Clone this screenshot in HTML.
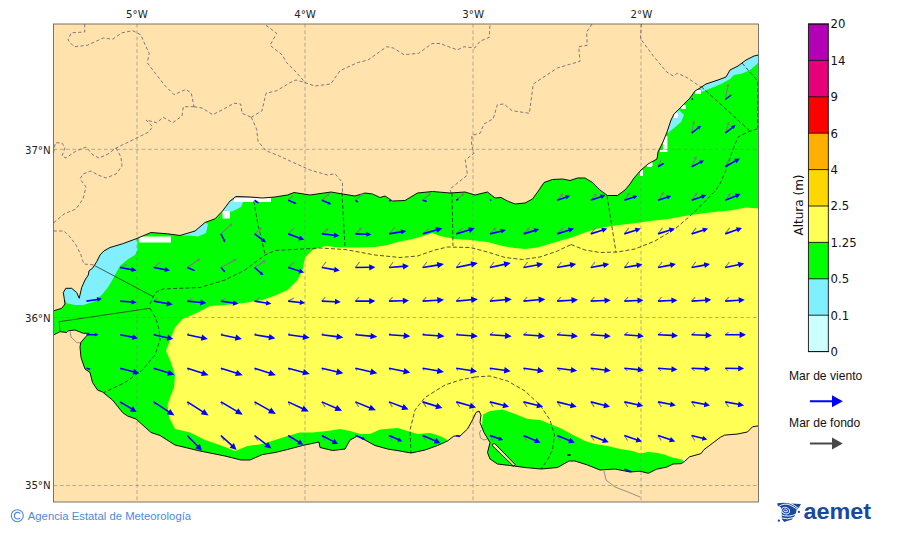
<!DOCTYPE html>
<html><head><meta charset="utf-8"><title>Mar de viento / Mar de fondo</title>
<style>
html,body{margin:0;padding:0;background:#fff;}
body{width:900px;height:533px;position:relative;overflow:hidden;font-family:"DejaVu Sans","Liberation Sans",sans-serif;}
svg text{font-family:"DejaVu Sans","Liberation Sans",sans-serif;}
</style></head><body>
<svg width="900" height="533" viewBox="0 0 900 533" style="position:absolute;left:0;top:0">
<defs><clipPath id="fr"><rect x="53.5" y="24.0" width="705.0" height="478.0"/></clipPath></defs>
<g clip-path="url(#fr)">
<rect x="53.5" y="24.0" width="705.0" height="478.0" fill="#FFE2AC"/>
<path d="M53.5,310.8 L61.7,308.3 L65.0,304.0 L64.2,298.3 L63.3,292.5 L65.8,288.3 L71.7,288.3 L76.7,292.5 L79.2,298.3 L81.7,287.5 L85.0,280.0 L88.3,275.0 L89.0,270.8 L92.5,268.3 L96.7,261.7 L100.0,255.0 L103.8,251.0 L110.0,247.5 L122.5,243.8 L136.0,238.8 L151.0,232.5 L167.5,233.8 L180.0,235.5 L195.0,231.0 L205.0,222.5 L215.0,218.8 L222.5,211.0 L230.0,201.0 L236.0,196.5 L250.0,197.0 L262.5,198.0 L275.0,197.0 L287.5,195.0 L294.0,192.5 L310.0,195.0 L331.0,192.0 L342.5,194.0 L355.0,196.0 L365.0,193.0 L372.5,194.0 L380.0,197.5 L385.0,196.0 L392.5,201.0 L405.0,200.5 L417.5,193.0 L432.5,191.5 L450.0,193.0 L465.0,192.0 L475.0,195.0 L487.5,192.0 L495.0,198.0 L501.0,197.5 L507.5,201.0 L515.0,204.0 L525.0,203.0 L532.5,199.0 L539.0,190.0 L544.0,182.5 L552.5,179.5 L562.5,179.0 L570.0,180.5 L577.5,178.0 L585.0,178.0 L592.5,182.5 L600.0,190.0 L607.5,195.5 L617.5,195.5 L625.0,190.0 L630.0,184.0 L634.0,178.0 L641.0,170.0 L648.0,164.0 L657.0,159.0 L658.0,152.0 L663.0,142.0 L667.0,132.0 L671.0,120.0 L674.0,114.0 L680.0,108.0 L690.0,98.0 L695.0,91.0 L700.0,88.0 L706.0,84.0 L718.0,80.0 L726.0,77.0 L730.0,70.0 L738.0,66.0 L746.0,60.0 L754.0,56.0 L758.5,55.0 L758.5,425.8 L752.5,426.8 L747.4,432.0 L737.0,434.1 L724.7,435.1 L720.5,437.2 L712.3,443.4 L704.0,449.6 L700.9,453.7 L689.6,456.8 L684.4,461.5 L681.3,463.6 L673.0,464.0 L666.8,467.1 L656.5,469.2 L648.3,473.3 L640.0,471.2 L630.0,472.0 L615.0,469.0 L600.0,470.0 L587.5,465.0 L575.0,461.0 L569.0,461.0 L557.5,467.5 L541.0,469.0 L525.0,467.5 L514.0,466.0 L497.5,464.0 L490.0,459.0 L487.5,452.5 L490.0,442.5 L484.0,432.5 L480.0,422.5 L481.0,415.0 L479.0,411.0 L476.0,412.5 L472.5,420.0 L467.5,429.0 L460.0,436.0 L454.0,436.0 L447.5,441.0 L437.5,445.5 L425.0,450.0 L411.0,453.0 L400.0,451.0 L387.5,449.0 L375.0,445.5 L365.0,440.0 L357.5,436.0 L350.0,440.0 L345.0,449.0 L332.5,450.5 L320.0,447.5 L319.0,442.0 L302.5,445.5 L287.5,449.5 L275.0,452.5 L262.5,454.5 L250.0,460.0 L241.0,460.0 L225.0,456.0 L200.0,451.0 L175.0,445.0 L160.0,435.5 L151.0,432.5 L136.0,419.0 L127.5,416.0 L122.5,412.5 L112.5,400.0 L102.5,392.0 L97.5,390.0 L92.5,382.5 L90.0,372.5 L85.0,369.0 L81.0,357.5 L80.0,347.0 L80.8,342.5 L85.8,336.7 L89.2,333.3 L83.3,333.3 L75.0,330.0 L68.3,330.8 L66.7,332.5 L60.0,331.7 L53.5,335.0Z" fill="#00FF00"/>
<path d="M166.0,351.0 L170.0,340.0 L175.0,327.5 L182.5,319.0 L197.5,312.5 L210.0,306.0 L225.0,305.0 L247.5,302.5 L262.5,300.0 L275.0,295.5 L287.5,290.0 L297.5,280.0 L302.5,270.0 L305.0,257.5 L312.5,250.0 L325.0,246.0 L340.0,247.5 L357.5,247.5 L375.0,247.0 L387.5,245.0 L397.5,242.0 L412.5,239.0 L425.0,235.5 L432.5,233.0 L440.0,236.0 L455.0,239.0 L470.0,240.0 L487.5,242.0 L502.5,246.0 L515.0,248.0 L525.0,249.0 L537.5,247.5 L552.5,243.0 L570.0,238.0 L585.0,232.5 L600.0,228.0 L615.0,225.5 L632.0,223.5 L650.0,221.0 L668.0,219.0 L690.0,215.0 L714.0,212.0 L730.0,210.4 L746.0,207.6 L758.5,208.6 L758.5,485.0 L690.0,485.0 L686.5,461.0 L683.4,459.9 L681.3,459.5 L673.0,457.8 L664.8,454.7 L656.5,452.7 L648.3,452.0 L640.0,453.5 L632.5,451.0 L620.0,449.0 L607.5,446.0 L595.0,444.0 L585.0,441.0 L575.0,436.0 L560.0,428.0 L550.0,424.0 L540.0,420.0 L527.5,419.0 L515.0,414.0 L502.5,409.5 L490.0,411.0 L483.0,414.5 L481.5,430.0 L470.0,455.0 L450.0,455.0 L447.5,440.0 L440.0,436.0 L430.0,433.0 L417.5,434.0 L407.5,431.0 L397.5,428.0 L380.0,429.5 L370.0,434.0 L360.0,434.0 L350.0,431.0 L340.0,429.0 L327.5,431.0 L312.5,432.5 L300.0,432.5 L287.5,436.0 L275.0,440.0 L262.5,444.0 L247.5,446.0 L235.0,451.0 L222.5,446.0 L205.0,440.0 L190.0,432.5 L175.0,429.0 L169.0,417.5 L167.5,405.0 L170.0,397.5 L174.0,387.5 L175.0,375.0 L171.0,362.5Z" fill="#FFFF55"/>
<path d="M100.0,255.0 L103.8,251.0 L110.0,247.5 L122.5,243.8 L136.0,238.8 L137.5,242.5 L137.5,250.0 L135.0,255.0 L128.3,259.0 L120.0,265.8 L116.7,271.7 L113.3,278.3 L108.3,286.7 L101.7,295.0 L93.3,301.7 L83.3,305.0 L75.0,305.0 L66.7,303.3 L64.2,298.3 L63.3,292.5 L65.8,288.3 L71.7,288.3 L76.7,292.5 L79.2,298.3 L81.7,287.5 L85.0,280.0 L88.3,275.0 L89.0,270.8 L92.5,268.3 L96.7,261.7Z" fill="#80F0FF"/>
<path d="M194.0,231.5 L205.0,222.5 L208.0,224.0 L206.0,233.0 L198.0,236.5 L190.0,235.5 L180.0,235.5 L182.0,233.5Z" fill="#80F0FF"/>
<path d="M222.5,211.0 L230.0,201.0 L233.0,200.0 L243.0,202.0 L241.0,207.0 L232.0,211.5Z" fill="#80F0FF"/>
<path d="M700.0,88.0 L706.0,84.0 L718.0,80.0 L726.0,77.0 L730.0,70.0 L738.0,66.0 L746.0,60.0 L754.0,56.0 L758.5,55.0 L758.5,62.0 L757.0,64.0 L750.0,70.0 L742.0,73.5 L734.0,75.0 L730.0,79.0 L722.0,83.5 L714.0,87.0 L706.0,90.0 L702.0,92.0Z" fill="#80F0FF"/>
<path d="M667.0,132.0 L671.0,120.0 L674.0,114.0 L679.0,110.0 L684.0,115.0 L681.0,122.0 L674.0,128.0 L668.0,133.0Z" fill="#80F0FF"/>
<rect x="138.8" y="236.5" width="32.2" height="6.0" fill="#fff"/>
<rect x="233.8" y="197.5" width="37.2" height="4.5" fill="#fff"/>
<rect x="222.5" y="211.0" width="7.5" height="7.5" fill="#fff"/>
<rect x="695.0" y="90.0" width="6.0" height="4.0" fill="#fff"/>
<rect x="681.0" y="105.0" width="5.0" height="4.0" fill="#fff"/>
<rect x="674.0" y="113.0" width="4.0" height="5.0" fill="#fff"/>
<rect x="663.0" y="136.0" width="4.4" height="16.0" fill="#fff"/>
<rect x="647.0" y="162.0" width="5.0" height="5.0" fill="#fff"/>
<rect x="640.0" y="170.0" width="3.0" height="6.0" fill="#fff"/>
<rect x="646.0" y="162.5" width="6.5" height="3.5" fill="#fff"/>
<rect x="660.0" y="150.0" width="6.0" height="2.0" fill="#fff"/>
<rect x="682.7" y="458.8" width="2.7" height="2.5" fill="#fff"/>
<path d="M53.5,24.0 L53.5,311.0 L61.7,308.3 L65.0,304.0 L64.2,298.3 L63.3,292.5 L65.8,288.3 L71.7,288.3 L76.7,292.5 L79.2,298.3 L81.7,287.5 L85.0,280.0 L88.3,275.0 L89.0,270.8 L92.5,268.3 L96.7,261.7 L100.0,255.0 L103.8,251.0 L110.0,247.5 L122.5,243.8 L136.0,238.8 L151.0,232.5 L167.5,233.8 L180.0,235.5 L195.0,231.0 L205.0,222.5 L215.0,218.8 L222.5,211.0 L230.0,201.0 L236.0,196.5 L250.0,197.0 L262.5,198.0 L275.0,197.0 L287.5,195.0 L294.0,192.5 L310.0,195.0 L331.0,192.0 L342.5,194.0 L355.0,196.0 L365.0,193.0 L372.5,194.0 L380.0,197.5 L385.0,196.0 L392.5,201.0 L405.0,200.5 L417.5,193.0 L432.5,191.5 L450.0,193.0 L465.0,192.0 L475.0,195.0 L487.5,192.0 L495.0,198.0 L501.0,197.5 L507.5,201.0 L515.0,204.0 L525.0,203.0 L532.5,199.0 L539.0,190.0 L544.0,182.5 L552.5,179.5 L562.5,179.0 L570.0,180.5 L577.5,178.0 L585.0,178.0 L592.5,182.5 L600.0,190.0 L607.5,195.5 L617.5,195.5 L625.0,190.0 L630.0,184.0 L634.0,178.0 L641.0,170.0 L648.0,164.0 L657.0,159.0 L658.0,152.0 L663.0,142.0 L667.0,132.0 L671.0,120.0 L674.0,114.0 L680.0,108.0 L690.0,98.0 L695.0,91.0 L700.0,88.0 L706.0,84.0 L718.0,80.0 L726.0,77.0 L730.0,70.0 L738.0,66.0 L746.0,60.0 L754.0,56.0 L758.5,55.0 L758.5,24.0Z" fill="#FFE2AC"/>
<path d="M53.5,502.0 L53.5,335.0 L60.0,331.7 L66.7,332.5 L68.3,330.8 L75.0,330.0 L83.3,333.3 L89.2,333.3 L85.8,336.7 L80.8,342.5 L80.0,347.0 L81.0,357.5 L85.0,369.0 L90.0,372.5 L92.5,382.5 L97.5,390.0 L102.5,392.0 L112.5,400.0 L122.5,412.5 L127.5,416.0 L136.0,419.0 L151.0,432.5 L160.0,435.5 L175.0,445.0 L200.0,451.0 L225.0,456.0 L241.0,460.0 L250.0,460.0 L262.5,454.5 L275.0,452.5 L287.5,449.5 L302.5,445.5 L319.0,442.0 L320.0,447.5 L332.5,450.5 L345.0,449.0 L350.0,440.0 L357.5,436.0 L365.0,440.0 L375.0,445.5 L387.5,449.0 L400.0,451.0 L411.0,453.0 L425.0,450.0 L437.5,445.5 L447.5,441.0 L454.0,436.0 L460.0,436.0 L467.5,429.0 L472.5,420.0 L476.0,412.5 L479.0,411.0 L481.0,415.0 L480.0,422.5 L484.0,432.5 L490.0,442.5 L487.5,452.5 L490.0,459.0 L497.5,464.0 L514.0,466.0 L525.0,467.5 L541.0,469.0 L557.5,467.5 L569.0,461.0 L575.0,461.0 L587.5,465.0 L600.0,470.0 L615.0,469.0 L630.0,472.0 L640.0,471.2 L648.3,473.3 L656.5,469.2 L666.8,467.1 L673.0,464.0 L681.3,463.6 L684.4,461.5 L689.6,456.8 L700.9,453.7 L704.0,449.6 L712.3,443.4 L720.5,437.2 L724.7,435.1 L737.0,434.1 L747.4,432.0 L752.5,426.8 L758.5,425.8 L758.5,502.0Z" fill="#FFE2AC"/>
<line x1="137.0" y1="24.0" x2="137.0" y2="502.0" stroke="#808080" stroke-opacity="0.75" stroke-width="0.8" stroke-dasharray="3.7,2.6"/>
<line x1="305.0" y1="24.0" x2="305.0" y2="502.0" stroke="#808080" stroke-opacity="0.75" stroke-width="0.8" stroke-dasharray="3.7,2.6"/>
<line x1="473.0" y1="24.0" x2="473.0" y2="502.0" stroke="#808080" stroke-opacity="0.75" stroke-width="0.8" stroke-dasharray="3.7,2.6"/>
<line x1="641.0" y1="24.0" x2="641.0" y2="502.0" stroke="#808080" stroke-opacity="0.75" stroke-width="0.8" stroke-dasharray="3.7,2.6"/>
<line x1="53.5" y1="149.3" x2="758.5" y2="149.3" stroke="#808080" stroke-opacity="0.75" stroke-width="0.8" stroke-dasharray="3.7,2.6"/>
<line x1="53.5" y1="317.5" x2="758.5" y2="317.5" stroke="#808080" stroke-opacity="0.75" stroke-width="0.8" stroke-dasharray="3.7,2.6"/>
<line x1="53.5" y1="485.5" x2="758.5" y2="485.5" stroke="#808080" stroke-opacity="0.75" stroke-width="0.8" stroke-dasharray="3.7,2.6"/>
<path d="M84.7,24.0 L84.7,32.0 L71.3,32.8 L68.0,40.0 L74.0,46.7 L87.3,45.3 L103.3,38.0 L112.7,39.2 L122.0,32.8 L132.7,30.7 L140.7,34.7 L146.0,46.7 L149.2,53.3 L147.3,62.7 L155.3,73.3 L164.7,85.3 L174.0,94.7 L186.0,89.3 L191.3,93.3 L194.0,106.7" fill="none" stroke="#5f5c74" stroke-width="0.8" stroke-dasharray="3.3,2.3"/>
<path d="M194.0,106.7 L183.3,106.7 L182.0,116.0 L172.7,122.7 L163.3,117.3 L156.7,122.7 L146.0,120.0 L152.7,126.7 L148.7,132.0 L130.0,141.3 L116.0,148.0 L108.0,154.0 L99.0,158.0 L93.0,155.0 L86.0,147.0 L76.0,151.0 L66.0,158.0 L62.0,156.0 L65.0,148.0 L62.0,143.0 L55.3,142.7 L53.5,153.3" fill="none" stroke="#5f5c74" stroke-width="0.8" stroke-dasharray="3.3,2.3"/>
<path d="M116.0,148.0 L121.0,157.0 L122.0,166.0 L116.0,174.0 L106.0,178.0 L98.0,175.0 L91.0,171.0 L83.0,174.0 L80.0,179.0 L86.0,187.0 L83.0,199.0 L76.0,209.0 L64.0,214.0 L53.5,223.0" fill="none" stroke="#5f5c74" stroke-width="0.8" stroke-dasharray="3.3,2.3"/>
<path d="M53.5,231.0 L64.0,231.0 L70.0,237.0 L76.0,245.0 L81.0,255.0 L83.8,264.0 L95.0,265.0" fill="none" stroke="#5f5c74" stroke-width="0.8" stroke-dasharray="3.3,2.3"/>
<path d="M194.0,106.7 L202.0,108.0 L212.7,114.7 L223.3,109.3 L234.0,103.2 L240.7,104.0 L242.0,113.3 L251.3,117.3" fill="none" stroke="#5f5c74" stroke-width="0.8" stroke-dasharray="3.3,2.3"/>
<path d="M251.3,117.3 L262.0,110.7 L266.0,93.3 L276.7,90.7 L290.0,82.7 L296.0,80.0 L305.3,82.7" fill="none" stroke="#5f5c74" stroke-width="0.8" stroke-dasharray="3.3,2.3"/>
<path d="M251.3,117.3 L256.7,129.3 L258.0,141.3 L266.0,150.7 L279.3,156.0 L290.7,161.3 L310.0,170.0 L327.5,175.0 L335.0,173.8 L342.5,182.5 L342.5,192.5" fill="none" stroke="#5f5c74" stroke-width="0.8" stroke-dasharray="3.3,2.3"/>
<path d="M266.0,25.3 L276.7,33.3 L270.0,45.3 L282.0,54.7 L286.7,62.7 L296.0,72.0 L305.3,82.7 L314.7,86.0 L330.7,84.0 L340.0,70.7 L357.3,62.7 L368.0,60.0 L386.7,46.7 L393.3,48.0 L404.0,54.7 L418.7,53.3 L432.0,43.5 L440.0,43.5 L457.3,49.9 L464.0,46.7 L474.7,48.0 L480.0,41.3 L489.3,37.3 L490.0,24.0" fill="none" stroke="#5f5c74" stroke-width="0.8" stroke-dasharray="3.3,2.3"/>
<path d="M592.0,24.0 L586.7,32.0 L587.2,45.3 L578.7,46.7 L580.0,61.3 L557.3,68.0 L533.3,84.0 L529.3,113.3 L512.0,110.7 L504.0,104.0 L497.3,104.8 L493.3,118.7 L484.0,124.0 L480.0,133.3 L472.0,135.2 L471.5,144.0 L474.0,153.3 L465.3,160.0 L467.5,175.0 L450.0,189.0 L451.0,193.0" fill="none" stroke="#5f5c74" stroke-width="0.8" stroke-dasharray="3.3,2.3"/>
<path d="M641.3,24.0 L640.5,38.7 L653.3,56.0 L666.7,72.0 L673.3,76.0 L677.3,73.3 L686.0,77.0 L698.0,85.0 L701.0,87.0" fill="none" stroke="#5f5c74" stroke-width="0.8" stroke-dasharray="3.3,2.3"/>
<path d="M70.0,331.7 L71.0,337.0 L76.7,342.5 L81.0,343.0" fill="none" stroke="#6a6a80" stroke-width="0.7"/>
<path d="M604.0,471.0 L606.0,480.0 L615.0,487.0 L628.0,492.0 L640.0,497.0" fill="none" stroke="#6a6a80" stroke-width="0.7"/>
<path d="M481.0,430.0 L479.5,433.0 L480.5,438.0 L484.0,440.0 L487.0,439.0" fill="none" stroke="#6a6a80" stroke-width="0.7"/>
<path d="M150.0,304.0 L153.3,296.7 L156.7,291.7 L163.3,289.0 L200.0,287.5 L225.0,280.0 L245.0,270.0 L265.0,255.0 L275.0,250.5 L320.0,248.0 L345.0,249.5 L375.0,255.0 L400.0,257.5 L417.5,256.0 L435.0,250.0 L447.5,247.0 L470.0,247.5 L487.5,252.0 L505.0,257.5 L522.5,259.5 L540.0,257.0 L557.5,251.0 L571.0,244.5" fill="none" stroke="#333" stroke-width="0.85" stroke-dasharray="4,2.2"/>
<path d="M571.0,244.5 L585.0,250.0 L600.0,252.5 L617.5,252.0 L635.0,249.0 L655.0,241.0 L675.0,229.0 L690.0,216.0 L702.5,204.0 L715.0,191.0 L720.0,184.0 L726.0,170.0 L732.0,152.0 L738.0,137.0 L748.0,132.0 L758.5,128.4" fill="none" stroke="#333" stroke-width="0.85" stroke-dasharray="4,2.2"/>
<path d="M253.8,201.0 L258.0,225.0 L265.0,254.0" fill="none" stroke="#333" stroke-width="0.85" stroke-dasharray="4,2.2"/>
<path d="M342.0,192.5 L345.0,247.5" fill="none" stroke="#333" stroke-width="0.85" stroke-dasharray="4,2.2"/>
<path d="M452.0,193.0 L453.0,246.0" fill="none" stroke="#333" stroke-width="0.85" stroke-dasharray="4,2.2"/>
<path d="M607.0,195.5 L616.0,252.5" fill="none" stroke="#333" stroke-width="0.85" stroke-dasharray="4,2.2"/>
<path d="M701.0,86.4 L750.0,131.0" fill="none" stroke="#333" stroke-width="0.85" stroke-dasharray="4,2.2"/>
<path d="M742.0,63.0 L758.5,82.0" fill="none" stroke="#333" stroke-width="0.85" stroke-dasharray="4,2.2"/>
<path d="M757.8,82.0 L757.8,128.0" fill="none" stroke="#333" stroke-width="0.85" stroke-dasharray="4,2.2"/>
<path d="M150.0,308.3 L155.8,318.3 L159.2,330.0 L160.0,340.0 L155.0,355.0 L142.5,370.0 L125.0,382.5 L104.0,392.5" fill="none" stroke="#333" stroke-width="0.85" stroke-dasharray="4,2.2"/>
<path d="M475.0,377.0 L490.0,376.0 L507.5,381.0 L525.0,391.0 L540.0,405.0 L550.0,420.0 L554.5,435.0 L552.5,450.0 L547.5,460.0 L541.0,469.0" fill="none" stroke="#333" stroke-width="0.85" stroke-dasharray="4,2.2"/>
<path d="M475.0,377.0 L460.0,380.0 L445.0,385.0 L425.0,397.5 L415.0,410.0 L410.0,430.0 L411.0,453.0" fill="none" stroke="#333" stroke-width="0.85" stroke-dasharray="4,2.2"/>
<path d="M95.0,265.8 L153.3,296.7" fill="none" stroke="#333" stroke-width="0.8"/>
<path d="M60.0,331.7 L59.2,321.7 L150.0,308.3" fill="none" stroke="#333" stroke-width="0.8"/>
<path d="M492.3,445.6 Q492.2,443.2 494.8,443.6 L515.2,464.6 L513.6,466.3 Z" fill="#FFE2AC" stroke="#000" stroke-width="0.9"/>
<ellipse cx="569" cy="455" rx="1.8" ry="1" fill="#000"/>
<path d="M53.5,310.8 L61.7,308.3 L65.0,304.0 L64.2,298.3 L63.3,292.5 L65.8,288.3 L71.7,288.3 L76.7,292.5 L79.2,298.3 L81.7,287.5 L85.0,280.0 L88.3,275.0 L89.0,270.8 L92.5,268.3 L96.7,261.7 L100.0,255.0 L103.8,251.0 L110.0,247.5 L122.5,243.8 L136.0,238.8 L151.0,232.5 L167.5,233.8 L180.0,235.5 L195.0,231.0 L205.0,222.5 L215.0,218.8 L222.5,211.0 L230.0,201.0 L236.0,196.5 L250.0,197.0 L262.5,198.0 L275.0,197.0 L287.5,195.0 L294.0,192.5 L310.0,195.0 L331.0,192.0 L342.5,194.0 L355.0,196.0 L365.0,193.0 L372.5,194.0 L380.0,197.5 L385.0,196.0 L392.5,201.0 L405.0,200.5 L417.5,193.0 L432.5,191.5 L450.0,193.0 L465.0,192.0 L475.0,195.0 L487.5,192.0 L495.0,198.0 L501.0,197.5 L507.5,201.0 L515.0,204.0 L525.0,203.0 L532.5,199.0 L539.0,190.0 L544.0,182.5 L552.5,179.5 L562.5,179.0 L570.0,180.5 L577.5,178.0 L585.0,178.0 L592.5,182.5 L600.0,190.0 L607.5,195.5 L617.5,195.5 L625.0,190.0 L630.0,184.0 L634.0,178.0 L641.0,170.0 L648.0,164.0 L657.0,159.0 L658.0,152.0 L663.0,142.0 L667.0,132.0 L671.0,120.0 L674.0,114.0 L680.0,108.0 L690.0,98.0 L695.0,91.0 L700.0,88.0 L706.0,84.0 L718.0,80.0 L726.0,77.0 L730.0,70.0 L738.0,66.0 L746.0,60.0 L754.0,56.0 L758.5,55.0" fill="none" stroke="#000" stroke-width="0.95" stroke-linejoin="round"/>
<path d="M53.5,335.0 L60.0,331.7 L66.7,332.5 L68.3,330.8 L75.0,330.0 L83.3,333.3 L89.2,333.3 L85.8,336.7 L80.8,342.5 L80.0,347.0 L81.0,357.5 L85.0,369.0 L90.0,372.5 L92.5,382.5 L97.5,390.0 L102.5,392.0 L112.5,400.0 L122.5,412.5 L127.5,416.0 L136.0,419.0 L151.0,432.5 L160.0,435.5 L175.0,445.0 L200.0,451.0 L225.0,456.0 L241.0,460.0 L250.0,460.0 L262.5,454.5 L275.0,452.5 L287.5,449.5 L302.5,445.5 L319.0,442.0 L320.0,447.5 L332.5,450.5 L345.0,449.0 L350.0,440.0 L357.5,436.0 L365.0,440.0 L375.0,445.5 L387.5,449.0 L400.0,451.0 L411.0,453.0 L425.0,450.0 L437.5,445.5 L447.5,441.0 L454.0,436.0 L460.0,436.0 L467.5,429.0 L472.5,420.0 L476.0,412.5 L479.0,411.0 L481.0,415.0 L480.0,422.5 L484.0,432.5 L490.0,442.5 L487.5,452.5 L490.0,459.0 L497.5,464.0 L514.0,466.0 L525.0,467.5 L541.0,469.0 L557.5,467.5 L569.0,461.0 L575.0,461.0 L587.5,465.0 L600.0,470.0 L615.0,469.0 L630.0,472.0 L640.0,471.2 L648.3,473.3 L656.5,469.2 L666.8,467.1 L673.0,464.0 L681.3,463.6 L684.4,461.5 L689.6,456.8 L700.9,453.7 L704.0,449.6 L712.3,443.4 L720.5,437.2 L724.7,435.1 L737.0,434.1 L747.4,432.0 L752.5,426.8 L758.5,425.8" fill="none" stroke="#000" stroke-width="0.95" stroke-linejoin="round"/>
<path d="M725.8,99.6 L728.2,86.7 L729.2,86.9 L728.2,83.5 L726.1,86.4 L727.1,86.5 L724.7,99.4Z" fill="#7d7d7d"/>
<path d="M692.2,133.2 L694.0,123.8 L695.1,124.1 L694.1,120.6 L691.9,123.4 L693.0,123.6 L691.1,133.0Z" fill="#7d7d7d"/>
<path d="M725.8,133.3 L728.7,124.8 L729.7,125.1 L729.2,121.6 L726.7,124.1 L727.7,124.4 L724.7,132.9Z" fill="#7d7d7d"/>
<path d="M658.0,166.7 l3.0,-6.6" stroke="#7d7d7d" stroke-width="1.1" fill="none"/>
<path d="M692.1,166.9 L695.8,159.2 L696.7,159.7 L696.6,156.1 L693.8,158.3 L694.8,158.8 L691.1,166.5Z" fill="#7d7d7d"/>
<path d="M725.2,166.7 l4.0,-7.6" stroke="#7d7d7d" stroke-width="1.1" fill="none"/>
<path d="M288.2,200.3 l5.0,-5.0" stroke="#7d7d7d" stroke-width="1.1" fill="none"/>
<path d="M322.2,200.7 L328.1,195.6 L328.7,196.4 L330.1,193.1 L326.6,194.0 L327.3,194.8 L321.4,199.9Z" fill="#7d7d7d"/>
<path d="M355.8,200.7 L361.4,195.6 L362.1,196.4 L363.4,193.1 L360.0,194.1 L360.7,194.8 L355.1,199.9Z" fill="#7d7d7d"/>
<path d="M423.0,200.7 L429.1,195.6 L429.8,196.4 L431.2,193.1 L427.7,193.9 L428.4,194.7 L422.3,199.9Z" fill="#7d7d7d"/>
<path d="M456.7,200.7 L462.5,195.6 L463.2,196.4 L464.6,193.1 L461.1,194.0 L461.8,194.8 L455.9,199.9Z" fill="#7d7d7d"/>
<path d="M557.6,200.7 L561.5,196.1 L562.3,196.8 L563.2,193.3 L559.9,194.7 L560.6,195.4 L556.7,199.9Z" fill="#7d7d7d"/>
<path d="M591.2,200.7 L595.1,196.1 L595.9,196.8 L596.8,193.3 L593.5,194.7 L594.3,195.4 L590.4,199.9Z" fill="#7d7d7d"/>
<path d="M624.8,200.6 L628.6,195.2 L629.5,195.8 L630.0,192.3 L626.8,194.0 L627.7,194.6 L623.9,200.0Z" fill="#7d7d7d"/>
<path d="M658.5,200.6 L662.6,194.7 L663.5,195.3 L664.0,191.8 L660.9,193.5 L661.7,194.1 L657.6,200.0Z" fill="#7d7d7d"/>
<path d="M692.1,200.6 L696.2,195.2 L697.0,195.8 L697.6,192.3 L694.4,193.9 L695.3,194.5 L691.2,200.0Z" fill="#7d7d7d"/>
<path d="M725.7,200.6 L729.2,196.0 L730.1,196.6 L730.8,193.1 L727.5,194.7 L728.4,195.3 L724.8,200.0Z" fill="#7d7d7d"/>
<path d="M221.3,234.3 L230.7,225.8 L231.4,226.5 L232.6,223.2 L229.2,224.2 L229.9,225.0 L220.6,233.5Z" fill="#7d7d7d"/>
<path d="M254.9,234.3 L260.0,229.7 L260.7,230.5 L262.1,227.2 L258.6,228.1 L259.3,228.9 L254.2,233.5Z" fill="#7d7d7d"/>
<path d="M288.2,233.9 l5.9,-6.0" stroke="#7d7d7d" stroke-width="1.1" fill="none"/>
<path d="M322.2,234.3 L326.7,230.4 L327.4,231.2 L328.8,227.9 L325.3,228.8 L326.0,229.6 L321.5,233.5Z" fill="#7d7d7d"/>
<path d="M355.8,234.3 L360.3,229.9 L361.0,230.6 L362.1,227.2 L358.7,228.3 L359.5,229.1 L355.0,233.5Z" fill="#7d7d7d"/>
<path d="M389.0,233.9 l6.0,-6.7" stroke="#7d7d7d" stroke-width="1.1" fill="none"/>
<path d="M422.7,233.9 l6.0,-5.0" stroke="#7d7d7d" stroke-width="1.1" fill="none"/>
<path d="M456.3,233.9 l6.4,-6.0" stroke="#7d7d7d" stroke-width="1.1" fill="none"/>
<path d="M490.3,234.3 L494.7,229.9 L495.5,230.6 L496.6,227.2 L493.2,228.3 L494.0,229.1 L489.5,233.5Z" fill="#7d7d7d"/>
<path d="M523.9,234.3 L528.1,229.9 L528.9,230.6 L529.9,227.2 L526.6,228.4 L527.3,229.1 L523.1,233.5Z" fill="#7d7d7d"/>
<path d="M557.2,233.9 l6.0,-6.0" stroke="#7d7d7d" stroke-width="1.1" fill="none"/>
<path d="M590.8,233.9 l4.5,-6.0" stroke="#7d7d7d" stroke-width="1.1" fill="none"/>
<path d="M624.4,233.9 l4.5,-6.0" stroke="#7d7d7d" stroke-width="1.1" fill="none"/>
<path d="M658.0,233.9 l4.5,-6.0" stroke="#7d7d7d" stroke-width="1.1" fill="none"/>
<path d="M691.6,233.9 l4.5,-6.0" stroke="#7d7d7d" stroke-width="1.1" fill="none"/>
<path d="M725.2,233.9 l4.5,-6.0" stroke="#7d7d7d" stroke-width="1.1" fill="none"/>
<path d="M120.1,267.5 l7.0,-3.0" stroke="#7d7d7d" stroke-width="1.1" fill="none"/>
<path d="M153.7,267.5 l7.0,-5.6" stroke="#7d7d7d" stroke-width="1.1" fill="none"/>
<path d="M187.6,268.0 L198.3,260.7 L198.9,261.6 L200.6,258.5 L197.1,259.0 L197.7,259.8 L187.0,267.0Z" fill="#7d7d7d"/>
<path d="M221.2,268.0 L234.1,261.0 L234.6,261.9 L236.6,259.0 L233.1,259.1 L233.6,260.0 L220.7,267.0Z" fill="#7d7d7d"/>
<path d="M254.9,268.0 L263.6,262.5 L264.2,263.4 L266.1,260.3 L262.5,260.6 L263.1,261.5 L254.3,267.0Z" fill="#7d7d7d"/>
<path d="M288.2,267.5 l6.4,-5.6" stroke="#7d7d7d" stroke-width="1.1" fill="none"/>
<path d="M321.8,267.5 l4.2,-5.5" stroke="#7d7d7d" stroke-width="1.1" fill="none"/>
<path d="M355.4,267.5 l4.2,-5.5" stroke="#7d7d7d" stroke-width="1.1" fill="none"/>
<path d="M389.0,267.5 l4.2,-5.5" stroke="#7d7d7d" stroke-width="1.1" fill="none"/>
<path d="M422.7,267.5 l4.2,-5.5" stroke="#7d7d7d" stroke-width="1.1" fill="none"/>
<path d="M456.3,267.5 l4.2,-5.5" stroke="#7d7d7d" stroke-width="1.1" fill="none"/>
<path d="M489.9,267.5 l4.2,-5.5" stroke="#7d7d7d" stroke-width="1.1" fill="none"/>
<path d="M523.5,267.5 l4.2,-5.5" stroke="#7d7d7d" stroke-width="1.1" fill="none"/>
<path d="M557.2,267.5 l4.2,-5.5" stroke="#7d7d7d" stroke-width="1.1" fill="none"/>
<path d="M590.8,267.5 l4.2,-5.5" stroke="#7d7d7d" stroke-width="1.1" fill="none"/>
<path d="M624.4,267.5 l4.2,-5.5" stroke="#7d7d7d" stroke-width="1.1" fill="none"/>
<path d="M658.0,267.5 l4.2,-5.5" stroke="#7d7d7d" stroke-width="1.1" fill="none"/>
<path d="M691.6,267.5 l4.2,-5.5" stroke="#7d7d7d" stroke-width="1.1" fill="none"/>
<path d="M725.2,267.5 l4.2,-5.5" stroke="#7d7d7d" stroke-width="1.1" fill="none"/>
<path d="M153.7,301.1 l4.3,-3.2" stroke="#7d7d7d" stroke-width="1.1" fill="none"/>
<path d="M187.3,301.1 l5.3,-3.2" stroke="#7d7d7d" stroke-width="1.1" fill="none"/>
<path d="M220.9,301.1 l5.0,-3.2" stroke="#7d7d7d" stroke-width="1.1" fill="none"/>
<path d="M254.6,301.1 l5.3,-3.7" stroke="#7d7d7d" stroke-width="1.1" fill="none"/>
<path d="M288.2,301.1 l5.8,-3.2" stroke="#7d7d7d" stroke-width="1.1" fill="none"/>
<path d="M321.8,301.1 l3.6,-4.0" stroke="#7d7d7d" stroke-width="1.1" fill="none"/>
<path d="M355.4,301.1 l3.6,-4.0" stroke="#7d7d7d" stroke-width="1.1" fill="none"/>
<path d="M389.0,301.1 l3.6,-4.0" stroke="#7d7d7d" stroke-width="1.1" fill="none"/>
<path d="M422.7,301.1 l3.6,-4.0" stroke="#7d7d7d" stroke-width="1.1" fill="none"/>
<path d="M456.3,301.1 l3.6,-4.0" stroke="#7d7d7d" stroke-width="1.1" fill="none"/>
<path d="M489.9,301.1 l3.6,-4.0" stroke="#7d7d7d" stroke-width="1.1" fill="none"/>
<path d="M523.5,301.1 l3.6,-4.0" stroke="#7d7d7d" stroke-width="1.1" fill="none"/>
<path d="M557.2,301.1 l3.6,-4.0" stroke="#7d7d7d" stroke-width="1.1" fill="none"/>
<path d="M590.8,301.1 l3.6,-4.0" stroke="#7d7d7d" stroke-width="1.1" fill="none"/>
<path d="M624.4,301.1 l3.6,-4.0" stroke="#7d7d7d" stroke-width="1.1" fill="none"/>
<path d="M658.0,301.1 l3.6,-4.0" stroke="#7d7d7d" stroke-width="1.1" fill="none"/>
<path d="M691.6,301.1 l3.6,-4.0" stroke="#7d7d7d" stroke-width="1.1" fill="none"/>
<path d="M725.2,301.1 l3.6,-4.0" stroke="#7d7d7d" stroke-width="1.1" fill="none"/>
<path d="M153.7,334.7 l1.5,-1.5" stroke="#7d7d7d" stroke-width="1.1" fill="none"/>
<path d="M187.3,334.7 l1.5,-1.5" stroke="#7d7d7d" stroke-width="1.1" fill="none"/>
<path d="M220.9,334.7 l1.5,-1.5" stroke="#7d7d7d" stroke-width="1.1" fill="none"/>
<path d="M254.6,334.7 l1.5,-1.5" stroke="#7d7d7d" stroke-width="1.1" fill="none"/>
<path d="M288.2,334.7 l1.5,-1.5" stroke="#7d7d7d" stroke-width="1.1" fill="none"/>
<path d="M321.8,334.7 l1.5,-1.5" stroke="#7d7d7d" stroke-width="1.1" fill="none"/>
<path d="M355.4,334.7 l1.5,-1.5" stroke="#7d7d7d" stroke-width="1.1" fill="none"/>
<path d="M389.0,334.7 l1.5,-1.5" stroke="#7d7d7d" stroke-width="1.1" fill="none"/>
<path d="M422.7,334.7 l1.5,-1.5" stroke="#7d7d7d" stroke-width="1.1" fill="none"/>
<path d="M456.3,334.7 l1.5,-1.5" stroke="#7d7d7d" stroke-width="1.1" fill="none"/>
<path d="M489.9,334.7 l3.5,-2.6" stroke="#7d7d7d" stroke-width="1.1" fill="none"/>
<path d="M523.5,334.7 l3.5,-2.6" stroke="#7d7d7d" stroke-width="1.1" fill="none"/>
<path d="M557.2,334.7 l3.5,-2.6" stroke="#7d7d7d" stroke-width="1.1" fill="none"/>
<path d="M590.8,334.7 l3.5,-2.6" stroke="#7d7d7d" stroke-width="1.1" fill="none"/>
<path d="M624.4,334.7 l3.5,-2.6" stroke="#7d7d7d" stroke-width="1.1" fill="none"/>
<path d="M658.0,334.7 l3.5,-2.6" stroke="#7d7d7d" stroke-width="1.1" fill="none"/>
<path d="M691.6,334.7 l3.5,-2.6" stroke="#7d7d7d" stroke-width="1.1" fill="none"/>
<path d="M725.2,334.7 l3.5,-2.6" stroke="#7d7d7d" stroke-width="1.1" fill="none"/>
<path d="M120.1,368.3 l1.5,2.0" stroke="#7d7d7d" stroke-width="1.1" fill="none"/>
<path d="M153.7,368.3 l1.5,2.0" stroke="#7d7d7d" stroke-width="1.1" fill="none"/>
<path d="M187.3,368.3 l1.5,2.0" stroke="#7d7d7d" stroke-width="1.1" fill="none"/>
<path d="M220.9,368.3 l1.5,2.0" stroke="#7d7d7d" stroke-width="1.1" fill="none"/>
<path d="M254.6,368.3 l1.5,2.0" stroke="#7d7d7d" stroke-width="1.1" fill="none"/>
<path d="M288.2,368.3 l1.5,2.0" stroke="#7d7d7d" stroke-width="1.1" fill="none"/>
<path d="M321.8,368.3 l1.5,2.0" stroke="#7d7d7d" stroke-width="1.1" fill="none"/>
<path d="M355.4,368.3 l1.5,2.0" stroke="#7d7d7d" stroke-width="1.1" fill="none"/>
<path d="M389.0,368.3 l1.5,2.0" stroke="#7d7d7d" stroke-width="1.1" fill="none"/>
<path d="M422.7,368.3 l1.5,2.0" stroke="#7d7d7d" stroke-width="1.1" fill="none"/>
<path d="M456.3,368.3 l1.5,2.0" stroke="#7d7d7d" stroke-width="1.1" fill="none"/>
<path d="M489.9,368.3 l1.5,2.0" stroke="#7d7d7d" stroke-width="1.1" fill="none"/>
<path d="M523.5,368.3 l1.5,2.0" stroke="#7d7d7d" stroke-width="1.1" fill="none"/>
<path d="M557.2,368.3 l3.0,2.5" stroke="#7d7d7d" stroke-width="1.1" fill="none"/>
<path d="M590.8,368.3 l3.0,2.5" stroke="#7d7d7d" stroke-width="1.1" fill="none"/>
<path d="M624.4,368.3 l3.0,2.5" stroke="#7d7d7d" stroke-width="1.1" fill="none"/>
<path d="M658.0,368.3 l3.0,2.5" stroke="#7d7d7d" stroke-width="1.1" fill="none"/>
<path d="M691.6,368.3 l3.0,2.5" stroke="#7d7d7d" stroke-width="1.1" fill="none"/>
<path d="M725.2,368.3 l3.0,2.5" stroke="#7d7d7d" stroke-width="1.1" fill="none"/>
<path d="M120.1,401.9 l1.5,3.5" stroke="#7d7d7d" stroke-width="1.1" fill="none"/>
<path d="M153.7,401.9 l1.5,3.5" stroke="#7d7d7d" stroke-width="1.1" fill="none"/>
<path d="M187.3,401.9 l1.5,3.5" stroke="#7d7d7d" stroke-width="1.1" fill="none"/>
<path d="M220.9,401.9 l1.5,3.5" stroke="#7d7d7d" stroke-width="1.1" fill="none"/>
<path d="M254.6,401.9 l1.5,3.5" stroke="#7d7d7d" stroke-width="1.1" fill="none"/>
<path d="M288.2,401.9 l1.5,3.5" stroke="#7d7d7d" stroke-width="1.1" fill="none"/>
<path d="M321.8,401.9 l3.4,5.0" stroke="#7d7d7d" stroke-width="1.1" fill="none"/>
<path d="M355.4,401.9 l3.4,5.0" stroke="#7d7d7d" stroke-width="1.1" fill="none"/>
<path d="M389.0,401.9 l3.4,5.0" stroke="#7d7d7d" stroke-width="1.1" fill="none"/>
<path d="M422.7,401.9 l3.4,5.0" stroke="#7d7d7d" stroke-width="1.1" fill="none"/>
<path d="M456.3,401.9 l3.4,5.0" stroke="#7d7d7d" stroke-width="1.1" fill="none"/>
<path d="M489.9,401.9 l3.4,5.0" stroke="#7d7d7d" stroke-width="1.1" fill="none"/>
<path d="M523.5,401.9 l3.4,5.0" stroke="#7d7d7d" stroke-width="1.1" fill="none"/>
<path d="M557.2,401.9 l3.4,5.0" stroke="#7d7d7d" stroke-width="1.1" fill="none"/>
<path d="M590.8,401.9 l3.4,5.0" stroke="#7d7d7d" stroke-width="1.1" fill="none"/>
<path d="M624.4,401.9 l3.4,5.0" stroke="#7d7d7d" stroke-width="1.1" fill="none"/>
<path d="M658.0,401.9 l3.4,5.0" stroke="#7d7d7d" stroke-width="1.1" fill="none"/>
<path d="M691.6,401.9 l3.4,5.0" stroke="#7d7d7d" stroke-width="1.1" fill="none"/>
<path d="M725.2,401.9 l3.4,5.0" stroke="#7d7d7d" stroke-width="1.1" fill="none"/>
<path d="M187.3,435.5 l3.2,5.0" stroke="#7d7d7d" stroke-width="1.1" fill="none"/>
<path d="M220.9,435.5 l3.2,5.0" stroke="#7d7d7d" stroke-width="1.1" fill="none"/>
<path d="M254.6,435.5 l3.2,5.0" stroke="#7d7d7d" stroke-width="1.1" fill="none"/>
<path d="M288.2,435.5 l3.2,5.0" stroke="#7d7d7d" stroke-width="1.1" fill="none"/>
<path d="M321.8,435.5 l3.2,5.0" stroke="#7d7d7d" stroke-width="1.1" fill="none"/>
<path d="M389.0,435.5 l3.2,5.0" stroke="#7d7d7d" stroke-width="1.1" fill="none"/>
<path d="M422.7,435.5 l3.2,5.0" stroke="#7d7d7d" stroke-width="1.1" fill="none"/>
<path d="M489.9,435.5 l3.2,5.0" stroke="#7d7d7d" stroke-width="1.1" fill="none"/>
<path d="M523.5,435.5 l3.2,5.0" stroke="#7d7d7d" stroke-width="1.1" fill="none"/>
<path d="M557.2,435.5 l3.2,5.0" stroke="#7d7d7d" stroke-width="1.1" fill="none"/>
<path d="M590.8,435.5 l3.2,5.0" stroke="#7d7d7d" stroke-width="1.1" fill="none"/>
<path d="M624.4,435.5 l3.2,5.0" stroke="#7d7d7d" stroke-width="1.1" fill="none"/>
<path d="M658.0,435.5 l3.2,5.0" stroke="#7d7d7d" stroke-width="1.1" fill="none"/>
<path d="M691.6,435.5 l3.2,5.0" stroke="#7d7d7d" stroke-width="1.1" fill="none"/>
<path d="M725.7,100.1 L731.0,96.1 L731.0,96.1 L731.9,94.5 L730.0,94.9 L730.0,94.9 L724.8,98.9Z" fill="#0000FF"/>
<path d="M692.1,100.2 L693.3,99.4 L693.3,99.4 L693.1,98.5 L692.4,98.0 L692.4,98.0 L691.2,98.8Z" fill="#0000FF"/>
<path d="M692.1,133.7 L698.7,128.6 L699.3,129.5 L701.1,125.7 L697.0,126.5 L697.7,127.4 L691.1,132.5Z" fill="#0000FF"/>
<path d="M725.7,133.7 L732.8,128.2 L733.6,129.2 L735.5,125.1 L731.1,126.0 L731.9,126.9 L724.8,132.5Z" fill="#0000FF"/>
<path d="M658.4,167.4 L663.5,164.5 L663.5,164.5 L664.4,163.1 L662.7,163.1 L662.7,163.1 L657.6,166.0Z" fill="#0000FF"/>
<path d="M692.0,167.4 L700.5,163.1 L701.1,164.3 L704.0,160.5 L699.2,160.5 L699.8,161.7 L691.3,166.0Z" fill="#0000FF"/>
<path d="M725.6,167.4 L735.7,161.7 L736.6,163.3 L739.9,158.5 L734.1,158.8 L734.9,160.3 L724.9,166.0Z" fill="#0000FF"/>
<path d="M254.1,201.0 L257.6,203.4 L257.6,203.4 L258.9,203.3 L258.5,202.0 L258.5,202.0 L255.0,199.6Z" fill="#0000FF"/>
<path d="M287.9,201.0 L293.8,203.5 L293.5,204.0 L296.7,203.8 L294.6,201.4 L294.4,202.0 L288.5,199.6Z" fill="#0000FF"/>
<path d="M321.5,201.0 L328.1,203.8 L327.8,204.5 L331.4,204.3 L329.1,201.6 L328.7,202.3 L322.1,199.6Z" fill="#0000FF"/>
<path d="M355.0,200.9 L357.1,202.5 L357.1,202.5 L358.1,202.3 L358.1,201.3 L358.1,201.3 L355.9,199.7Z" fill="#0000FF"/>
<path d="M388.7,201.0 L390.3,201.8 L390.3,201.8 L391.0,201.3 L391.0,200.4 L391.0,200.4 L389.4,199.6Z" fill="#0000FF"/>
<path d="M422.4,201.1 L426.0,202.1 L426.0,202.1 L427.2,201.6 L426.5,200.6 L426.5,200.6 L422.9,199.5Z" fill="#0000FF"/>
<path d="M456.7,201.0 L458.4,200.0 L458.4,200.0 L458.5,199.1 L457.7,198.6 L457.7,198.6 L455.9,199.6Z" fill="#0000FF"/>
<path d="M490.2,201.1 L491.4,200.7 L491.4,200.7 L491.4,199.8 L490.9,199.1 L490.9,199.1 L489.7,199.5Z" fill="#0000FF"/>
<path d="M557.4,201.1 L566.2,197.9 L566.7,199.2 L570.0,195.8 L565.3,195.2 L565.7,196.4 L556.9,199.5Z" fill="#0000FF"/>
<path d="M591.0,201.1 L601.2,197.4 L601.7,198.9 L605.5,195.0 L600.1,194.4 L600.6,195.9 L590.5,199.5Z" fill="#0000FF"/>
<path d="M624.6,201.1 L633.6,198.1 L634.0,199.3 L637.4,196.0 L632.7,195.3 L633.1,196.6 L624.1,199.5Z" fill="#0000FF"/>
<path d="M658.3,201.1 L667.4,198.1 L667.8,199.4 L671.2,196.0 L666.5,195.3 L666.9,196.6 L657.8,199.5Z" fill="#0000FF"/>
<path d="M691.9,201.1 L702.0,197.5 L702.6,199.0 L706.3,195.1 L701.0,194.4 L701.5,196.0 L691.4,199.5Z" fill="#0000FF"/>
<path d="M725.5,201.0 L736.2,196.8 L736.8,198.4 L740.6,194.1 L734.9,193.6 L735.6,195.3 L725.0,199.6Z" fill="#0000FF"/>
<path d="M220.2,234.3 L223.2,240.1 L222.6,240.4 L225.2,242.4 L225.2,239.1 L224.6,239.4 L221.7,233.5Z" fill="#0000FF"/>
<path d="M254.1,234.5 L262.0,240.4 L261.2,241.5 L266.1,242.4 L263.8,238.0 L263.0,239.1 L255.0,233.3Z" fill="#0000FF"/>
<path d="M287.9,234.7 L299.0,238.7 L298.3,240.5 L304.2,239.8 L300.1,235.5 L299.5,237.2 L288.5,233.1Z" fill="#0000FF"/>
<path d="M321.7,234.7 L333.9,236.0 L333.7,237.9 L339.4,235.8 L334.2,232.5 L334.0,234.4 L321.9,233.1Z" fill="#0000FF"/>
<path d="M355.4,234.7 L366.4,235.0 L366.4,236.7 L371.4,234.4 L366.5,231.8 L366.5,233.4 L355.5,233.1Z" fill="#0000FF"/>
<path d="M389.2,234.7 L401.1,232.7 L401.4,234.6 L406.3,231.0 L400.5,229.2 L400.9,231.1 L388.9,233.1Z" fill="#0000FF"/>
<path d="M422.9,234.7 L436.5,230.8 L437.1,233.1 L442.4,228.3 L435.4,227.0 L436.0,229.3 L422.5,233.1Z" fill="#0000FF"/>
<path d="M456.5,234.7 L469.2,230.8 L469.9,232.9 L474.7,228.3 L468.1,227.2 L468.8,229.3 L456.1,233.1Z" fill="#0000FF"/>
<path d="M490.1,234.7 L501.1,231.9 L501.6,233.6 L505.9,229.9 L500.3,228.7 L500.8,230.4 L489.7,233.1Z" fill="#0000FF"/>
<path d="M523.8,234.7 L534.6,231.4 L535.1,233.0 L539.2,229.1 L533.6,228.2 L534.1,229.8 L523.3,233.1Z" fill="#0000FF"/>
<path d="M557.4,234.7 L569.0,231.0 L569.6,232.8 L574.0,228.6 L567.9,227.6 L568.5,229.5 L556.9,233.1Z" fill="#0000FF"/>
<path d="M591.0,234.7 L602.4,231.0 L603.0,232.8 L607.3,228.6 L601.3,227.7 L601.9,229.5 L590.5,233.1Z" fill="#0000FF"/>
<path d="M624.6,234.7 L635.9,231.0 L636.5,232.8 L640.7,228.6 L634.8,227.7 L635.4,229.5 L624.1,233.1Z" fill="#0000FF"/>
<path d="M658.3,234.7 L669.8,231.0 L670.4,232.8 L674.8,228.6 L668.8,227.6 L669.4,229.5 L657.8,233.1Z" fill="#0000FF"/>
<path d="M691.9,234.7 L703.3,231.0 L703.8,232.8 L708.1,228.6 L702.2,227.7 L702.8,229.5 L691.4,233.1Z" fill="#0000FF"/>
<path d="M725.5,234.7 L737.1,230.5 L737.8,232.4 L742.0,227.9 L735.9,227.2 L736.6,229.0 L725.0,233.1Z" fill="#0000FF"/>
<path d="M119.9,268.3 L131.3,270.4 L131.0,272.1 L136.6,270.5 L131.9,267.0 L131.6,268.8 L120.2,266.7Z" fill="#0000FF"/>
<path d="M153.6,268.3 L164.8,270.4 L164.5,272.1 L170.0,270.5 L165.4,267.0 L165.1,268.8 L153.9,266.7Z" fill="#0000FF"/>
<path d="M187.0,268.2 L193.4,271.0 L193.4,271.0 L195.3,271.0 L194.1,269.6 L194.1,269.6 L187.7,266.8Z" fill="#0000FF"/>
<path d="M220.4,268.0 L223.8,271.9 L223.8,271.9 L225.2,272.3 L225.0,270.8 L225.0,270.8 L221.5,267.0Z" fill="#0000FF"/>
<path d="M254.0,268.1 L260.1,273.4 L259.4,274.2 L263.4,275.2 L261.8,271.4 L261.2,272.2 L255.1,266.9Z" fill="#0000FF"/>
<path d="M288.0,268.3 L299.0,271.7 L298.5,273.4 L304.2,272.5 L300.0,268.5 L299.5,270.2 L288.4,266.7Z" fill="#0000FF"/>
<path d="M321.7,268.3 L334.1,270.4 L333.8,272.4 L339.8,270.5 L334.7,266.8 L334.4,268.8 L321.9,266.7Z" fill="#0000FF"/>
<path d="M355.4,268.3 L369.2,268.1 L369.3,270.4 L375.4,267.2 L369.2,264.2 L369.2,266.5 L355.4,266.7Z" fill="#0000FF"/>
<path d="M389.1,268.3 L402.9,267.2 L403.1,269.5 L409.0,265.9 L402.6,263.3 L402.8,265.6 L389.0,266.7Z" fill="#0000FF"/>
<path d="M422.8,268.3 L437.5,265.9 L437.9,268.2 L444.0,264.0 L436.8,261.9 L437.2,264.3 L422.5,266.7Z" fill="#0000FF"/>
<path d="M456.5,268.3 L471.4,265.2 L471.8,267.5 L477.9,263.0 L470.5,261.3 L471.0,263.6 L456.1,266.7Z" fill="#0000FF"/>
<path d="M490.1,268.3 L504.4,265.2 L504.9,267.5 L510.7,263.0 L503.6,261.3 L504.1,263.6 L489.7,266.7Z" fill="#0000FF"/>
<path d="M523.7,268.3 L537.3,265.7 L537.7,268.0 L543.2,263.8 L536.5,261.9 L537.0,264.2 L523.4,266.7Z" fill="#0000FF"/>
<path d="M557.3,268.3 L570.4,265.9 L570.8,268.0 L576.2,264.0 L569.7,262.1 L570.1,264.3 L557.0,266.7Z" fill="#0000FF"/>
<path d="M590.9,268.3 L603.6,265.9 L604.0,267.9 L609.2,264.0 L602.9,262.2 L603.3,264.3 L590.6,266.7Z" fill="#0000FF"/>
<path d="M624.5,268.3 L636.9,266.2 L637.3,268.2 L642.4,264.5 L636.3,262.6 L636.7,264.6 L624.3,266.7Z" fill="#0000FF"/>
<path d="M658.2,268.3 L670.5,265.9 L670.9,267.9 L675.9,264.0 L669.8,262.3 L670.2,264.3 L657.9,266.7Z" fill="#0000FF"/>
<path d="M691.8,268.3 L704.5,265.9 L704.9,267.9 L710.0,264.0 L703.8,262.2 L704.2,264.3 L691.5,266.7Z" fill="#0000FF"/>
<path d="M725.4,268.3 L738.5,265.5 L739.0,267.7 L744.2,263.5 L737.7,261.8 L738.2,264.0 L725.1,266.7Z" fill="#0000FF"/>
<path d="M86.6,301.9 L97.3,300.2 L97.5,301.8 L102.0,298.7 L96.8,297.0 L97.0,298.7 L86.3,300.3Z" fill="#0000FF"/>
<path d="M120.0,301.9 L131.4,302.8 L131.3,304.6 L136.6,302.4 L131.7,299.4 L131.5,301.2 L120.2,300.3Z" fill="#0000FF"/>
<path d="M153.6,301.9 L166.7,304.3 L166.3,306.5 L172.7,304.6 L167.4,300.6 L167.0,302.7 L153.9,300.3Z" fill="#0000FF"/>
<path d="M187.2,301.9 L200.4,303.3 L200.1,305.4 L206.3,303.1 L200.8,299.5 L200.5,301.7 L187.4,300.3Z" fill="#0000FF"/>
<path d="M220.8,301.9 L233.0,303.8 L232.7,305.7 L238.5,303.8 L233.5,300.2 L233.2,302.2 L221.1,300.3Z" fill="#0000FF"/>
<path d="M254.4,301.9 L266.0,303.8 L265.7,305.6 L271.4,303.8 L266.6,300.4 L266.3,302.2 L254.7,300.3Z" fill="#0000FF"/>
<path d="M288.1,301.9 L299.8,303.3 L299.6,305.1 L305.2,303.1 L300.2,299.8 L300.0,301.7 L288.3,300.3Z" fill="#0000FF"/>
<path d="M321.8,301.9 L334.9,302.5 L334.8,304.6 L340.8,301.9 L335.0,298.7 L335.0,300.9 L321.8,300.3Z" fill="#0000FF"/>
<path d="M355.4,301.9 L369.2,301.9 L369.2,304.2 L375.4,301.1 L369.2,298.0 L369.2,300.3 L355.4,300.3Z" fill="#0000FF"/>
<path d="M389.1,301.9 L402.9,301.6 L402.9,303.9 L409.0,300.6 L402.8,297.7 L402.8,300.0 L389.0,300.3Z" fill="#0000FF"/>
<path d="M422.7,301.9 L437.4,301.0 L437.6,303.4 L444.0,299.8 L437.2,297.0 L437.3,299.4 L422.6,300.3Z" fill="#0000FF"/>
<path d="M456.4,301.9 L471.3,300.6 L471.5,303.0 L477.9,299.2 L470.9,296.6 L471.1,299.0 L456.2,300.3Z" fill="#0000FF"/>
<path d="M490.0,301.9 L505.1,300.6 L505.3,303.0 L511.8,299.2 L504.7,296.6 L505.0,299.0 L489.8,300.3Z" fill="#0000FF"/>
<path d="M523.6,301.9 L538.7,300.6 L538.9,303.0 L545.4,299.2 L538.4,296.6 L538.6,299.0 L523.5,300.3Z" fill="#0000FF"/>
<path d="M557.2,301.9 L571.6,301.0 L571.7,303.4 L578.0,299.8 L571.3,297.0 L571.5,299.4 L557.1,300.3Z" fill="#0000FF"/>
<path d="M590.8,301.9 L604.6,301.3 L604.7,303.6 L610.8,300.3 L604.4,297.4 L604.5,299.7 L590.7,300.3Z" fill="#0000FF"/>
<path d="M624.4,301.9 L637.5,301.3 L637.6,303.5 L643.4,300.3 L637.4,297.6 L637.5,299.7 L624.4,300.3Z" fill="#0000FF"/>
<path d="M658.0,301.9 L671.5,301.3 L671.6,303.6 L677.5,300.3 L671.3,297.5 L671.4,299.7 L658.0,300.3Z" fill="#0000FF"/>
<path d="M691.7,301.9 L705.3,301.0 L705.4,303.3 L711.3,299.8 L705.0,297.1 L705.2,299.4 L691.6,300.3Z" fill="#0000FF"/>
<path d="M725.3,301.9 L738.8,301.0 L738.9,303.2 L744.8,299.8 L738.5,297.2 L738.7,299.4 L725.2,300.3Z" fill="#0000FF"/>
<path d="M86.5,335.5 L94.8,335.5 L94.8,336.6 L98.5,334.7 L94.8,332.8 L94.8,333.9 L86.5,333.9Z" fill="#0000FF"/>
<path d="M119.9,335.5 L132.3,337.9 L131.9,339.9 L138.0,338.2 L133.0,334.3 L132.6,336.3 L120.2,333.9Z" fill="#0000FF"/>
<path d="M153.5,335.5 L167.1,338.4 L166.6,340.7 L173.4,339.0 L168.0,334.6 L167.5,336.9 L153.9,333.9Z" fill="#0000FF"/>
<path d="M187.2,335.5 L201.3,338.4 L200.8,340.8 L207.8,339.0 L202.1,334.5 L201.6,336.9 L187.5,333.9Z" fill="#0000FF"/>
<path d="M220.8,335.5 L235.3,338.5 L234.8,340.8 L241.9,339.0 L236.1,334.5 L235.6,336.9 L221.1,333.9Z" fill="#0000FF"/>
<path d="M254.4,335.5 L268.8,337.9 L268.4,340.3 L275.4,338.2 L269.5,334.0 L269.1,336.3 L254.7,333.9Z" fill="#0000FF"/>
<path d="M288.1,335.5 L302.9,337.6 L302.6,340.0 L309.7,337.8 L303.5,333.7 L303.1,336.0 L288.3,333.9Z" fill="#0000FF"/>
<path d="M321.7,335.5 L336.6,337.4 L336.3,339.7 L343.4,337.4 L337.1,333.4 L336.8,335.8 L321.9,333.9Z" fill="#0000FF"/>
<path d="M355.4,335.5 L370.5,336.9 L370.2,339.3 L377.3,336.7 L370.8,332.9 L370.6,335.3 L355.5,333.9Z" fill="#0000FF"/>
<path d="M389.0,335.5 L403.7,336.6 L403.5,339.0 L410.3,336.3 L404.0,332.6 L403.8,335.0 L389.1,333.9Z" fill="#0000FF"/>
<path d="M422.6,335.5 L437.7,336.6 L437.5,339.0 L444.6,336.3 L438.0,332.6 L437.8,335.0 L422.7,333.9Z" fill="#0000FF"/>
<path d="M456.2,335.5 L471.1,336.6 L471.0,339.0 L477.9,336.3 L471.4,332.6 L471.3,335.0 L456.3,333.9Z" fill="#0000FF"/>
<path d="M489.9,335.5 L505.0,336.6 L504.8,339.0 L511.8,336.3 L505.3,332.6 L505.1,335.0 L490.0,333.9Z" fill="#0000FF"/>
<path d="M523.5,335.5 L538.4,336.6 L538.2,339.0 L545.1,336.3 L538.7,332.6 L538.5,335.0 L523.6,333.9Z" fill="#0000FF"/>
<path d="M557.1,335.5 L571.4,336.6 L571.3,339.0 L578.0,336.3 L571.7,332.6 L571.6,335.0 L557.2,333.9Z" fill="#0000FF"/>
<path d="M590.7,335.5 L604.5,336.6 L604.3,338.9 L610.8,336.3 L604.8,332.7 L604.6,335.0 L590.8,333.9Z" fill="#0000FF"/>
<path d="M624.3,335.5 L637.8,336.6 L637.6,338.8 L643.9,336.3 L638.1,332.8 L637.9,335.0 L624.5,333.9Z" fill="#0000FF"/>
<path d="M658.0,335.5 L671.8,336.2 L671.7,338.5 L678.0,335.7 L672.0,332.3 L671.8,334.6 L658.0,333.9Z" fill="#0000FF"/>
<path d="M691.6,335.5 L705.6,336.1 L705.5,338.4 L711.9,335.5 L705.8,332.1 L705.7,334.5 L691.7,333.9Z" fill="#0000FF"/>
<path d="M725.2,335.5 L739.6,335.5 L739.6,337.9 L746.0,334.7 L739.6,331.5 L739.6,333.9 L725.2,333.9Z" fill="#0000FF"/>
<path d="M86.3,369.1 L89.5,369.9 L89.5,369.9 L90.5,369.3 L89.9,368.3 L89.9,368.3 L86.7,367.5Z" fill="#0000FF"/>
<path d="M119.9,369.1 L133.1,372.5 L132.6,374.7 L139.3,373.3 L134.1,368.8 L133.5,371.0 L120.3,367.5Z" fill="#0000FF"/>
<path d="M153.5,369.1 L167.8,373.5 L167.1,375.8 L174.5,374.7 L169.0,369.7 L168.3,372.0 L153.9,367.5Z" fill="#0000FF"/>
<path d="M187.1,369.1 L201.8,373.8 L201.0,376.1 L208.6,375.2 L203.0,370.0 L202.3,372.3 L187.6,367.5Z" fill="#0000FF"/>
<path d="M220.7,369.1 L235.8,373.8 L235.1,376.1 L242.8,375.2 L237.0,370.0 L236.3,372.3 L221.2,367.5Z" fill="#0000FF"/>
<path d="M254.3,369.1 L269.0,373.8 L268.3,376.1 L275.9,375.2 L270.3,370.0 L269.5,372.3 L254.8,367.5Z" fill="#0000FF"/>
<path d="M288.0,369.1 L302.9,373.0 L302.3,375.3 L309.8,374.0 L303.9,369.1 L303.3,371.5 L288.4,367.5Z" fill="#0000FF"/>
<path d="M321.6,369.1 L336.5,372.5 L336.0,374.9 L343.4,373.3 L337.4,368.6 L336.9,371.0 L322.0,367.5Z" fill="#0000FF"/>
<path d="M355.3,369.1 L370.4,372.5 L369.8,374.9 L377.3,373.3 L371.3,368.6 L370.7,371.0 L355.6,367.5Z" fill="#0000FF"/>
<path d="M388.9,369.1 L403.6,372.1 L403.1,374.4 L410.3,372.6 L404.4,368.1 L403.9,370.5 L389.2,367.5Z" fill="#0000FF"/>
<path d="M422.5,369.1 L437.2,371.6 L436.8,374.0 L444.0,372.0 L437.9,367.7 L437.5,370.1 L422.8,367.5Z" fill="#0000FF"/>
<path d="M456.2,369.1 L470.5,371.3 L470.2,373.7 L477.1,371.5 L471.1,367.3 L470.8,369.7 L456.4,367.5Z" fill="#0000FF"/>
<path d="M489.8,369.1 L504.2,371.1 L503.8,373.5 L510.7,371.2 L504.7,367.1 L504.4,369.5 L490.0,367.5Z" fill="#0000FF"/>
<path d="M523.4,369.1 L537.6,371.1 L537.2,373.5 L544.0,371.2 L538.1,367.1 L537.8,369.5 L523.6,367.5Z" fill="#0000FF"/>
<path d="M557.1,369.1 L570.9,370.8 L570.6,373.1 L577.2,370.7 L571.3,366.9 L571.0,369.2 L557.2,367.5Z" fill="#0000FF"/>
<path d="M590.7,369.1 L604.5,370.8 L604.2,373.1 L610.8,370.7 L604.9,366.9 L604.7,369.2 L590.9,367.5Z" fill="#0000FF"/>
<path d="M624.3,369.1 L637.8,370.4 L637.6,372.6 L643.9,370.2 L638.1,366.6 L637.9,368.8 L624.5,367.5Z" fill="#0000FF"/>
<path d="M658.0,369.1 L671.4,370.0 L671.3,372.2 L677.5,369.6 L671.7,366.2 L671.5,368.4 L658.1,367.5Z" fill="#0000FF"/>
<path d="M691.6,369.1 L704.6,369.7 L704.5,371.8 L710.5,369.1 L704.8,365.9 L704.7,368.1 L691.7,367.5Z" fill="#0000FF"/>
<path d="M725.2,369.1 L738.3,369.3 L738.2,371.4 L744.1,368.6 L738.3,365.6 L738.3,367.7 L725.3,367.5Z" fill="#0000FF"/>
<path d="M119.7,402.6 L131.1,409.5 L129.9,411.4 L136.6,411.9 L133.0,406.2 L131.9,408.1 L120.5,401.2Z" fill="#0000FF"/>
<path d="M153.3,402.6 L168.0,412.2 L166.7,414.2 L174.5,415.5 L170.2,408.9 L168.9,410.9 L154.1,401.2Z" fill="#0000FF"/>
<path d="M186.9,402.6 L202.1,412.3 L200.8,414.3 L208.6,415.5 L204.3,408.9 L203.0,411.0 L187.8,401.2Z" fill="#0000FF"/>
<path d="M220.5,402.6 L236.2,411.8 L235.0,413.8 L242.8,414.7 L238.2,408.3 L237.0,410.4 L221.4,401.2Z" fill="#0000FF"/>
<path d="M254.2,402.6 L269.2,411.1 L268.0,413.2 L275.9,413.9 L271.2,407.6 L270.0,409.7 L255.0,401.2Z" fill="#0000FF"/>
<path d="M287.9,402.6 L302.0,409.2 L301.0,411.4 L308.7,411.5 L303.7,405.6 L302.7,407.8 L288.5,401.2Z" fill="#0000FF"/>
<path d="M321.5,402.6 L335.5,408.7 L334.5,410.9 L342.1,410.7 L337.1,405.0 L336.1,407.2 L322.1,401.2Z" fill="#0000FF"/>
<path d="M355.1,402.6 L369.3,408.4 L368.4,410.6 L375.9,410.2 L370.8,404.7 L369.9,406.9 L355.7,401.2Z" fill="#0000FF"/>
<path d="M388.8,402.6 L402.2,407.8 L401.4,410.1 L408.5,409.4 L403.7,404.1 L402.8,406.3 L389.3,401.2Z" fill="#0000FF"/>
<path d="M422.4,402.7 L436.0,406.9 L435.3,409.2 L442.4,408.0 L437.2,403.1 L436.5,405.3 L422.9,401.1Z" fill="#0000FF"/>
<path d="M456.1,402.7 L469.7,406.5 L469.0,408.8 L476.0,407.5 L470.8,402.7 L470.1,405.0 L456.5,401.1Z" fill="#0000FF"/>
<path d="M489.7,402.7 L503.0,406.0 L502.4,408.2 L509.1,406.7 L503.9,402.2 L503.4,404.4 L490.1,401.1Z" fill="#0000FF"/>
<path d="M523.3,402.7 L536.9,406.0 L536.4,408.3 L543.2,406.7 L537.9,402.2 L537.3,404.4 L523.7,401.1Z" fill="#0000FF"/>
<path d="M557.0,402.7 L570.4,406.0 L569.9,408.2 L576.7,406.7 L571.3,402.2 L570.8,404.4 L557.3,401.1Z" fill="#0000FF"/>
<path d="M590.6,402.7 L603.8,406.0 L603.3,408.2 L610.0,406.7 L604.8,402.2 L604.2,404.4 L591.0,401.1Z" fill="#0000FF"/>
<path d="M624.2,402.7 L637.3,405.4 L636.8,407.6 L643.3,405.9 L638.1,401.7 L637.6,403.9 L624.6,401.1Z" fill="#0000FF"/>
<path d="M657.9,402.7 L670.2,405.1 L669.8,407.1 L675.9,405.4 L670.9,401.5 L670.5,403.5 L658.2,401.1Z" fill="#0000FF"/>
<path d="M691.5,402.7 L704.2,405.1 L703.8,407.2 L710.0,405.4 L704.9,401.5 L704.5,403.5 L691.8,401.1Z" fill="#0000FF"/>
<path d="M725.1,402.7 L738.1,405.1 L737.7,407.2 L744.1,405.4 L738.8,401.4 L738.4,403.5 L725.4,401.1Z" fill="#0000FF"/>
<path d="M186.8,436.1 L196.9,446.5 L195.2,448.2 L202.0,450.7 L199.8,443.8 L198.0,445.4 L187.9,434.9Z" fill="#0000FF"/>
<path d="M220.4,436.1 L231.2,446.0 L229.6,447.8 L236.6,449.9 L233.9,443.1 L232.3,444.8 L221.5,434.9Z" fill="#0000FF"/>
<path d="M254.1,436.1 L265.7,445.1 L264.2,447.0 L271.4,448.5 L268.1,441.9 L266.7,443.8 L255.1,434.9Z" fill="#0000FF"/>
<path d="M287.8,436.2 L298.1,442.5 L297.1,444.2 L303.2,444.7 L300.0,439.5 L299.0,441.2 L288.6,434.8Z" fill="#0000FF"/>
<path d="M321.4,436.2 L332.7,442.1 L331.7,443.9 L338.1,444.0 L334.4,438.8 L333.4,440.7 L322.2,434.8Z" fill="#0000FF"/>
<path d="M355.1,436.2 L362.0,439.0 L361.7,439.8 L365.4,439.5 L363.0,436.7 L362.6,437.5 L355.7,434.8Z" fill="#0000FF"/>
<path d="M388.7,436.2 L397.9,440.3 L397.3,441.6 L402.3,441.4 L399.1,437.5 L398.6,438.8 L389.4,434.8Z" fill="#0000FF"/>
<path d="M422.4,436.2 L434.7,441.5 L433.8,443.6 L440.6,443.2 L436.2,438.0 L435.3,440.1 L423.0,434.8Z" fill="#0000FF"/>
<path d="M456.0,436.3 L459.2,437.3 L459.2,437.3 L460.3,436.8 L459.7,435.8 L459.7,435.8 L456.5,434.7Z" fill="#0000FF"/>
<path d="M489.7,436.3 L498.8,439.4 L498.4,440.7 L503.2,440.0 L499.8,436.5 L499.3,437.8 L490.2,434.7Z" fill="#0000FF"/>
<path d="M523.2,436.2 L534.9,441.2 L534.1,443.1 L540.5,442.7 L536.4,437.8 L535.6,439.7 L523.8,434.8Z" fill="#0000FF"/>
<path d="M556.8,436.2 L569.0,441.2 L568.2,443.2 L574.8,442.7 L570.4,437.7 L569.6,439.7 L557.5,434.8Z" fill="#0000FF"/>
<path d="M590.5,436.2 L602.8,440.9 L602.1,442.9 L608.7,442.2 L604.2,437.3 L603.4,439.4 L591.1,434.8Z" fill="#0000FF"/>
<path d="M624.1,436.3 L636.3,440.5 L635.6,442.4 L642.0,441.6 L637.5,437.0 L636.8,439.0 L624.7,434.7Z" fill="#0000FF"/>
<path d="M657.8,436.3 L669.7,440.3 L669.0,442.3 L675.3,441.4 L670.9,436.9 L670.2,438.8 L658.3,434.7Z" fill="#0000FF"/>
<path d="M691.4,436.3 L702.3,439.0 L701.8,440.7 L707.3,439.5 L703.1,435.8 L702.7,437.5 L691.8,434.7Z" fill="#0000FF"/>
<path d="M624.1,469.8 L630.5,472.2 L630.5,472.2 L632.4,472.1 L631.1,470.8 L631.1,470.8 L624.7,468.4Z" fill="#0000FF"/>
</g>
<rect x="53.5" y="24.0" width="705.0" height="478.0" fill="none" stroke="#555" stroke-width="0.8"/>
<text x="136.9" y="18.2" font-size="10.2" text-anchor="middle" fill="#222">5°W</text>
<text x="305.0" y="18.2" font-size="10.2" text-anchor="middle" fill="#222">4°W</text>
<text x="473.2" y="18.2" font-size="10.2" text-anchor="middle" fill="#222">3°W</text>
<text x="641.4" y="18.2" font-size="10.2" text-anchor="middle" fill="#222">2°W</text>
<text x="50.6" y="153.9" font-size="10.2" text-anchor="end" fill="#222">37°N</text>
<text x="50.6" y="321.6" font-size="10.2" text-anchor="end" fill="#222">36°N</text>
<text x="50.6" y="489.3" font-size="10.2" text-anchor="end" fill="#222">35°N</text>
<rect x="808.4" y="24.00" width="19.9" height="36.70" fill="#B400B4"/>
<rect x="808.4" y="60.40" width="19.9" height="36.70" fill="#E6007A"/>
<rect x="808.4" y="96.80" width="19.9" height="36.70" fill="#FF0000"/>
<rect x="808.4" y="133.20" width="19.9" height="36.70" fill="#FFAF00"/>
<rect x="808.4" y="169.60" width="19.9" height="36.70" fill="#FFD700"/>
<rect x="808.4" y="206.00" width="19.9" height="36.70" fill="#FFFF55"/>
<rect x="808.4" y="242.40" width="19.9" height="36.70" fill="#00FF00"/>
<rect x="808.4" y="278.80" width="19.9" height="36.70" fill="#80F0FF"/>
<rect x="808.4" y="315.20" width="19.9" height="36.70" fill="#CCFFFF"/>
<line x1="808.0" y1="24.00" x2="829.1" y2="24.00" stroke="#111" stroke-width="0.9"/>
<text x="830.6" y="28.30" font-size="11.7" fill="#111">20</text>
<line x1="808.0" y1="60.40" x2="829.1" y2="60.40" stroke="#111" stroke-width="0.9"/>
<text x="830.6" y="64.70" font-size="11.7" fill="#111">14</text>
<line x1="808.0" y1="96.80" x2="829.1" y2="96.80" stroke="#111" stroke-width="0.9"/>
<text x="830.6" y="101.10" font-size="11.7" fill="#111">9</text>
<line x1="808.0" y1="133.20" x2="829.1" y2="133.20" stroke="#111" stroke-width="0.9"/>
<text x="830.6" y="137.50" font-size="11.7" fill="#111">6</text>
<line x1="808.0" y1="169.60" x2="829.1" y2="169.60" stroke="#111" stroke-width="0.9"/>
<text x="830.6" y="173.90" font-size="11.7" fill="#111">4</text>
<line x1="808.0" y1="206.00" x2="829.1" y2="206.00" stroke="#111" stroke-width="0.9"/>
<text x="830.6" y="210.30" font-size="11.7" fill="#111">2.5</text>
<line x1="808.0" y1="242.40" x2="829.1" y2="242.40" stroke="#111" stroke-width="0.9"/>
<text x="830.6" y="246.70" font-size="11.7" fill="#111">1.25</text>
<line x1="808.0" y1="278.80" x2="829.1" y2="278.80" stroke="#111" stroke-width="0.9"/>
<text x="830.6" y="283.10" font-size="11.7" fill="#111">0.5</text>
<line x1="808.0" y1="315.20" x2="829.1" y2="315.20" stroke="#111" stroke-width="0.9"/>
<text x="830.6" y="319.50" font-size="11.7" fill="#111">0.1</text>
<line x1="808.0" y1="351.60" x2="829.1" y2="351.60" stroke="#111" stroke-width="0.9"/>
<text x="830.6" y="355.90" font-size="11.7" fill="#111">0</text>
<rect x="808.4" y="24.0" width="19.9" height="327.6" fill="none" stroke="#111" stroke-width="0.9"/>
<text transform="translate(802.6,205) rotate(-90)" font-size="12" text-anchor="middle" fill="#111">Altura (m)</text>
<text x="825.6" y="379.8" font-size="12.1" text-anchor="middle" fill="#111" style="font-family:&quot;Liberation Sans&quot;,sans-serif">Mar de viento</text>
<text x="824.7" y="426.6" font-size="12.1" text-anchor="middle" fill="#111" style="font-family:&quot;Liberation Sans&quot;,sans-serif">Mar de fondo</text>
<path d="M809.9,400.3 H832 V395.3 L842.8,401.3 L832,407.3 V402.3 H809.9 Z" fill="#0000FF"/>
<path d="M809.9,442.4 H832 V437.4 L842.8,443.4 L832,449.4 V444.4 H809.9 Z" fill="#484848"/>
<g fill="none" stroke="#4C8BDA"><circle cx="17.3" cy="515.7" r="6" stroke-width="1.1"/><path d="M20.2,513.6 A3.3,3.3 0 1 0 20.2,517.8" stroke-width="1.2"/></g>
<text x="27.8" y="520.1" font-size="11.5" fill="#4C8BDA" textLength="163.3" lengthAdjust="spacingAndGlyphs" style="font-family:&quot;Liberation Sans&quot;,sans-serif">Agencia Estatal de Meteorología</text>
<g>
<path d="M777.2,503.3 L784,502.7 L790,503.4 L801,504.1 L799,507.5 L796.6,510 L795.6,514 L794,517 L791.5,519.8 L787,521 L784.3,521.9 L781.8,519 L781.6,511.5 L781,507.5 L777.8,506 Z" fill="#1848A0"/>
<g fill="none" stroke="#fff" stroke-width="0.95" stroke-linecap="round"><ellipse cx="785.6" cy="510.6" rx="4.1" ry="3.2" transform="rotate(22 785.6 510.6)"/><ellipse cx="785.5" cy="510.5" rx="1.9" ry="1.4" stroke-width="0.8" transform="rotate(22 785.5 510.5)"/><path d="M778.8,506.4 Q784,502.6 790,505 Q794,507 797.6,509.6"/><path d="M789.8,503 Q794,505 798.8,508.6"/><path d="M781.4,514.8 Q788,517.8 796,514.2"/><path d="M781.7,518 Q787,520.2 793.8,517.5"/></g>
<circle cx="798.9" cy="511.9" r="1.15" fill="#1848A0"/><circle cx="778.9" cy="520.7" r="1.15" fill="#1848A0"/>
<text x="803.4" y="518.8" font-size="22.5" font-weight="bold" fill="#1848A0" textLength="67.6" lengthAdjust="spacingAndGlyphs" style="font-family:&quot;Liberation Sans&quot;,sans-serif">aemet</text>
</g>
</svg>
</body></html>
